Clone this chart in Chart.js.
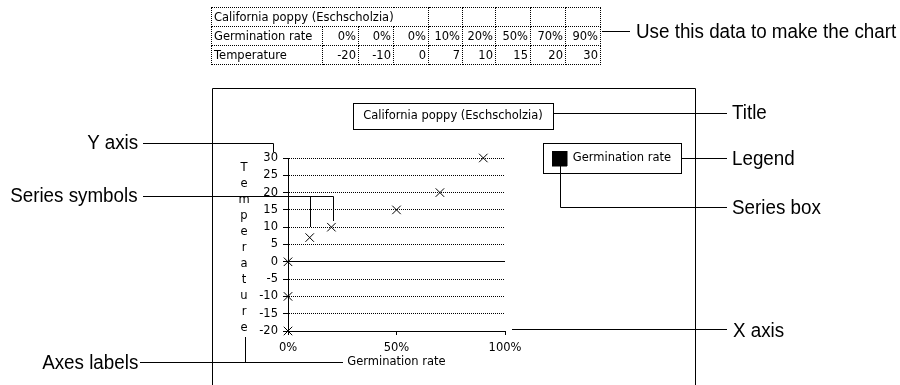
<!DOCTYPE html>
<html>
<head>
<meta charset="utf-8">
<script src="https://cdn.jsdelivr.net/npm/chart.js@4.4.1/dist/chart.umd.min.js"></script>
<style>
html,body{margin:0;padding:0;background:#fff;width:900px;height:385px;overflow:hidden;}
#wrap{position:relative;width:900px;height:385px;}
#c{position:absolute;left:0;top:0;}
.note{position:absolute;font-family:"Liberation Sans",Arial,sans-serif;font-size:20px;line-height:26px;color:#000;white-space:nowrap;transform:scaleX(0.94);transform-origin:left center;}
.note.r{text-align:right;right:762px;transform-origin:right center;}
#tbl{position:absolute;left:211px;top:7px;border-collapse:collapse;table-layout:fixed;width:389px;font-family:"DejaVu Sans",sans-serif;font-size:11.5px;color:#000;}
#tbl td{border:1px dotted #000;padding:0 2px;height:18px;line-height:18px;white-space:nowrap;overflow:visible;}
#tbl td.n{text-align:right;}
</style>
</head>
<body>
<div id="wrap">
<canvas id="c" width="900" height="385"></canvas>
<table id="tbl"></table>
<div class="note" style="left:636px;top:18px;">Use this data to make the chart</div>
<div class="note" style="left:732px;top:99px;">Title</div>
<div class="note" style="left:732px;top:145px;">Legend</div>
<div class="note" style="left:732px;top:194px;">Series box</div>
<div class="note" style="left:733px;top:317px;">X axis</div>
<div class="note r" style="top:129px;">Y axis</div>
<div class="note r" style="top:182px;">Series symbols</div>
<div class="note r" style="top:349px;">Axes labels</div>
</div>
<script>
// ---- data ----
const chartTitle = 'California poppy (Eschscholzia)';
const seriesName = 'Germination rate';
const rowLabels = ['Germination rate', 'Temperature'];
const germination = [0, 0, 0, 10, 20, 50, 70, 90];      // %
const temperature = [-20, -10, 0, 7, 10, 15, 20, 30];
const xTitleText = 'Germination rate';
const yTitleText = 'Temperature';
const xTickStep = 50;
const yTickStep = 5;

const FONT = '"DejaVu Sans", sans-serif';

// ---- data table (HTML) ----
(function buildTable(){
  const t = document.getElementById('tbl');
  const widths = [111, 36, 35, 35, 34, 33, 35, 35, 35];
  const cg = document.createElement('colgroup');
  widths.forEach(w => { const c = document.createElement('col'); c.style.width = w + 'px'; cg.appendChild(c); });
  t.appendChild(cg);
  let tr = document.createElement('tr');
  let td = document.createElement('td'); td.colSpan = 4; td.textContent = chartTitle; tr.appendChild(td);
  for (let i = 0; i < 5; i++) { tr.appendChild(document.createElement('td')); }
  t.appendChild(tr);
  tr = document.createElement('tr');
  td = document.createElement('td'); td.textContent = rowLabels[0]; tr.appendChild(td);
  germination.forEach(v => { const d = document.createElement('td'); d.className = 'n'; d.textContent = v + '%'; tr.appendChild(d); });
  t.appendChild(tr);
  tr = document.createElement('tr');
  td = document.createElement('td'); td.textContent = rowLabels[1]; tr.appendChild(td);
  temperature.forEach(v => { const d = document.createElement('td'); d.className = 'n'; d.textContent = String(v); tr.appendChild(d); });
  t.appendChild(tr);
})();

// ---- annotation plugin ----
const annot = {
  id: 'annot',
  afterLayout(chart) {
    const lg = chart.legend;
    if (lg) {
      lg.left = 552; lg.top = 151;
      lg.right = lg.left + lg.width; lg.bottom = lg.top + lg.height;
    }
    const tb = chart.titleBlock;
    if (tb) {
      tb.left = 353; tb.right = 553; tb.top = 109; tb.bottom = 123;
    }
  },
  afterDraw(chart) {
    const ctx = chart.ctx;
    ctx.save();
    ctx.strokeStyle = '#000';
    ctx.lineWidth = 1;
    const seg = (pts) => {
      ctx.beginPath();
      ctx.moveTo(pts[0][0], pts[0][1]);
      for (let i = 1; i < pts.length; i++) ctx.lineTo(pts[i][0], pts[i][1]);
      ctx.stroke();
    };
    // window frame
    seg([[212.5, 386], [212.5, 88.5], [695.5, 88.5], [695.5, 386]]);
    // title box
    ctx.strokeRect(353.5, 103.5, 200, 26);
    // legend box
    ctx.strokeRect(543.5, 143.5, 138, 30);
    // callout lines
    seg([[602, 31.5], [630, 31.5]]);
    seg([[554, 113.5], [727, 113.5]]);
    seg([[682, 158.5], [727, 158.5]]);
    seg([[560.5, 166], [560.5, 207.5], [727, 207.5]]);
    seg([[512, 329.5], [727, 329.5]]);
    seg([[143, 143.5], [273.5, 143.5], [273.5, 152]]);
    seg([[143, 196.5], [333.5, 196.5], [333.5, 221]]);
    seg([[310.5, 196.5], [310.5, 227]]);
    seg([[140, 362.5], [343, 362.5]]);
    seg([[245.5, 337], [245.5, 362.5]]);
    // vertical stacked Y axis title
    ctx.fillStyle = '#000';
    ctx.font = '11.5px ' + FONT;
    ctx.textAlign = 'center';
    ctx.textBaseline = 'middle';
    yTitleText.split('').forEach((ch, i) => ctx.fillText(ch, 244, 168 + i * 16));
    ctx.restore();
  }
};

new Chart(document.getElementById('c').getContext('2d'), {
  type: 'scatter',
  data: {
    datasets: [{
      label: seriesName,
      data: germination.map((g, i) => ({ x: g, y: temperature[i] })),
      pointStyle: 'crossRot',
      pointRadius: 6,
      pointHoverRadius: 6,
      borderColor: '#000',
      backgroundColor: '#000',
      borderWidth: 1,
      clip: false,
      showLine: false
    }]
  },
  options: {
    responsive: false,
    animation: false,
    devicePixelRatio: 1,
    events: [],
    layout: { padding: { left: 212, right: 395, top: 144, bottom: 16 } },
    plugins: {
      title: {
        display: true, text: chartTitle, color: '#000', padding: 0,
        font: { family: FONT, size: 11.5, weight: 'normal', lineHeight: '14px' }
      },
      legend: {
        display: true, position: 'chartArea', align: 'start',
        labels: { color: '#000', font: { family: FONT, size: 11.5 }, boxWidth: 15, boxHeight: 15, padding: 0 }
      },
      tooltip: { enabled: false }
    },
    scales: {
      x: {
        type: 'linear', position: 'bottom', min: 0, max: 100,
        ticks: { stepSize: xTickStep, callback: v => v + '%', color: '#000', font: { family: FONT, size: 11.5 }, padding: 6, maxRotation: 0 },
        grid: { drawOnChartArea: false, drawTicks: true, tickLength: 4, tickColor: '#000', tickWidth: 1 },
        border: { display: true, color: '#000', width: 1 },
        title: { display: true, text: xTitleText, color: '#000', font: { family: FONT, size: 11.5 }, padding: 0 },
        afterFit: s => { s.height = 38; }
      },
      y: {
        type: 'linear', position: 'left', min: -20, max: 30,
        ticks: { stepSize: yTickStep, color: '#000', font: { family: FONT, size: 11.5 }, padding: 5 },
        grid: { color: '#000', lineWidth: 1, drawTicks: true, tickLength: 5, tickColor: '#000', tickWidth: 1, tickBorderDash: [] },
        border: { display: true, color: '#000', width: 1, dash: c => (c.tick && c.tick.value === 0) ? [] : [1, 1] },
        afterFit: s => { s.width = 76; }
      }
    }
  },
  plugins: [annot]
});
</script>
</body>
</html>
